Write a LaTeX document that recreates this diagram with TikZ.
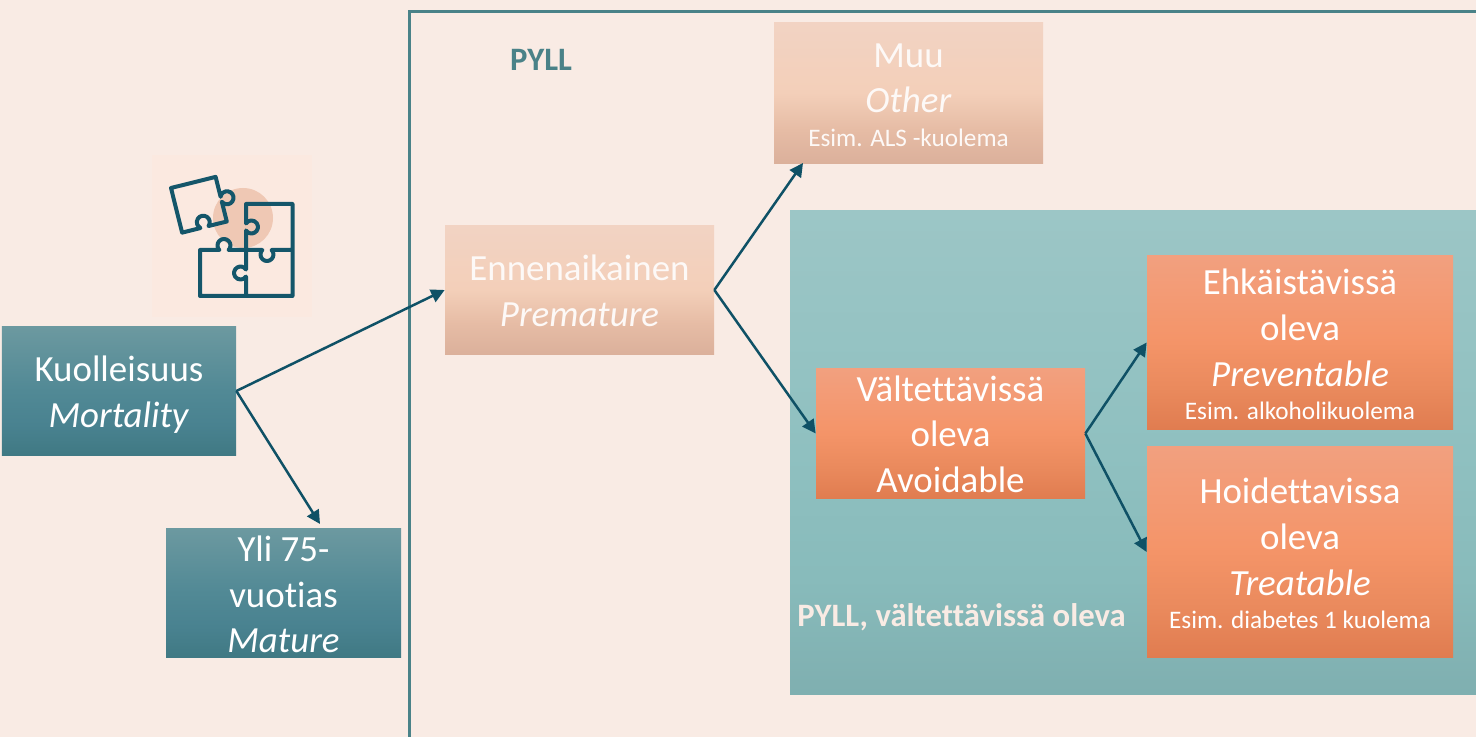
\documentclass[tikz,border=0pt]{standalone}
\usepackage{fontspec}
\setmainfont{Carlito}[Ligatures=NoCommon]
\usetikzlibrary{arrows.meta}
\definecolor{paper}{HTML}{F9EBE4}
\definecolor{paperlight}{HTML}{FBE9E0}
\definecolor{tealline}{HTML}{4A8288}
\definecolor{arrowcol}{HTML}{0F5166}
\definecolor{iconcol}{HTML}{14566A}
\definecolor{iconspot}{HTML}{EFC8B4}
\definecolor{tealtop}{HTML}{6C99A0}
\definecolor{tealmid}{HTML}{518995}
\definecolor{teallow}{HTML}{498290}
\definecolor{tealbot}{HTML}{407983}
\definecolor{pinktop}{HTML}{F2D3C3}
\definecolor{pinkmid}{HTML}{F3CFB9}
\definecolor{pinklow}{HTML}{E6BCA5}
\definecolor{pinkbot}{HTML}{DBB09B}
\definecolor{orangetop}{HTML}{F2A07F}
\definecolor{orangemid}{HTML}{F49468}
\definecolor{orangelow}{HTML}{EA8A5D}
\definecolor{orangebot}{HTML}{E07C50}
\definecolor{paneltop}{HTML}{9CC6C6}
\definecolor{panelmid}{HTML}{8FC0C0}
\definecolor{panellow}{HTML}{88BBBB}
\definecolor{panelbot}{HTML}{7FAFB0}
\pgfdeclareverticalshading{tealfade}{100bp}{color(0bp)=(tealbot); color(25bp)=(tealbot); color(37bp)=(teallow); color(50bp)=(tealmid); color(75bp)=(tealtop); color(100bp)=(tealtop)}
\pgfdeclareverticalshading{pinkfade}{100bp}{color(0bp)=(pinkbot); color(25bp)=(pinkbot); color(37bp)=(pinklow); color(50bp)=(pinkmid); color(75bp)=(pinktop); color(100bp)=(pinktop)}
\pgfdeclareverticalshading{orangefade}{100bp}{color(0bp)=(orangebot); color(25bp)=(orangebot); color(37bp)=(orangelow); color(50bp)=(orangemid); color(75bp)=(orangetop); color(100bp)=(orangetop)}
\pgfdeclareverticalshading{panelfade}{100bp}{color(0bp)=(panelbot); color(25bp)=(panelbot); color(37bp)=(panellow); color(50bp)=(panelmid); color(75bp)=(paneltop); color(100bp)=(paneltop)}
\newcommand{\bigfont}{\fontsize{21}{26}\selectfont}
\newcommand{\smallfont}{\fontsize{14.35}{14.8}\selectfont}
\newcommand{\topup}[1]{\rule{0pt}{#1pt}}
\tikzset{
  tealbox/.style={anchor=center, inner sep=0, align=center, text=white, font=\bigfont, shade, shading=tealfade},
  pinkbox/.style={anchor=center, inner sep=0, align=center, text=white!70!paper, font=\bigfont, shade, shading=pinkfade},
  orangebox/.style={anchor=center, inner sep=0, align=center, text=white, font=\bigfont, shade, shading=orangefade},
  flow/.style={draw=arrowcol, line width=0.5mm, -{Triangle[length=2.7mm,width=2.7mm]}},
  puzzle/.style={draw=iconcol, line width=0.8mm, line join=round}
}

\begin{document}
\begin{tikzpicture}[x=0.2mm,y=0.2mm]

\useasboundingbox (0,0) rectangle (1476,737);
\fill[paper] (0,0) rectangle (1476,737);

%frame and panel
\draw[tealline, line width=0.6mm] (1476,725)--(409,725)--(409,0);
\shade[shading=panelfade] (790,42.5) rectangle (1476,526.5);

%puzzle icon
{
\fill[paperlight] (152,420) rectangle (312,582);
\fill[iconspot] (243,519) circle [radius=30];

\begin{scope}[shift={(171,549)},rotate=14]
\draw[puzzle] (0,0)--(46,0)--(46,-20.5) arc [start angle=157,end angle=-157,radius=6.5]
  --(46,-46)--(27.2,-46) arc [start angle=-50,end angle=230,radius=6.5]
  --(0,-46)--cycle;
\end{scope}

\draw[puzzle] (246,487)--(246,506.5) arc [start angle=-147,end angle=147,radius=6.5]
  --(246,533)--(292.5,533)--(292.5,441)--(200,441)--(200,487)--(219.3,487)
  arc [start angle=224,end angle=-44,radius=6.5]--(262.3,487)
  arc [start angle=136,end angle=404,radius=6.5]--(292.5,487);
\draw[puzzle] (246,487)--(246,467.5) arc [start angle=33,end angle=327,radius=6.5]--(246,441);
}

% nodes
{
\node[tealbox, minimum width=46.8mm, minimum height=25.8mm] (mortality) at (119,346)
  {\topup{18.5}Kuolleisuus\\\textit{Mortality}};
\node[tealbox, minimum width=47mm, minimum height=25.8mm] (mature) at (283.5,144)
  {\topup{16.2}Yli 75-\\vuotias\\\textit{Mature}};
\node[pinkbox, minimum width=53.8mm, minimum height=25.8mm] (premature) at (579.5,447)
  {\topup{15.3}Ennenaikainen\\\textit{Premature}};
\node[pinkbox, minimum width=53.8mm, minimum height=28.2mm] (other) at (908.5,644)
  {\topup{15.8}Muu\\\textit{Other}\\[-6.8pt]{\smallfont Esim. ALS -kuolema}};
\node[orangebox, minimum width=53.8mm, minimum height=26mm] (avoidable) at (950.5,303.5)
  {\topup{15.3}Vältettävissä\\oleva\\Avoidable};
\node[orangebox, minimum width=61.2mm, minimum height=34.8mm] (preventable) at (1300,394.5)
  {\topup{17}Ehkäistävissä\\oleva\\\textit{Preventable}\\[-6.8pt]{\smallfont Esim. alkoholikuolema}};
\node[orangebox, minimum width=61.2mm, minimum height=42.2mm] (treatable) at (1300,185)
  {\topup{16.4}Hoidettavissa\\oleva\\\textit{Treatable}\\[-6.8pt]{\smallfont Esim. diabetes 1 kuolema}};

\node[text=tealline, inner sep=0, font=\fontsize{18.6}{22}\selectfont\bfseries] (pyll) at (541,677) {PYLL};
\node[text=paper, inner sep=0, font=\fontsize{18.6}{22}\selectfont\bfseries] (pyllavoid) at (961.5,120) {PYLL, vältettävissä oleva};

\coordinate (maturein) at (320,213);
\coordinate (otherin) at (803,574);
}

%arrows
{
\draw[flow] (mortality.east)--(premature.west);
\draw[flow] (mortality.east)--(maturein);
\draw[flow] (premature.east)--(otherin);
\draw[flow] (premature.east)--(avoidable.west);
\draw[flow] (avoidable.east)--(preventable.west);
\draw[flow] (avoidable.east)--(treatable.west);
}

\end{tikzpicture}
\end{document}
